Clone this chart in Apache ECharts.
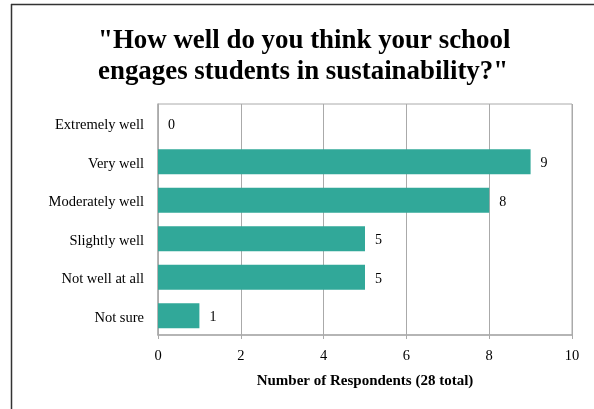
<!DOCTYPE html>
<html>
<head>
<meta charset="utf-8">
<style>html,body{margin:0;padding:0;background:#fff;}#c{width:594px;height:409px;}</style>
<script src="https://cdn.jsdelivr.net/npm/echarts@6/dist/echarts.min.js"></script>
</head>
<body>
<div id="c"></div>
<script>
const categories = ["Extremely well", "Very well", "Moderately well", "Slightly well", "Not well at all", "Not sure"];
const values = [0, 9, 8, 5, 5, 1];
const xTicks = [0, 2, 4, 6, 8, 10];

const serif = '"Liberation Serif", "Times New Roman", serif';
const chart = echarts.init(document.getElementById('c'), null, {renderer: 'canvas'});
chart.setOption({
  animation: false,
  backgroundColor: '#fff',
  title: {
    text: '"How well do you think your school\nengages students in sustainability?"',
    left: 93, top: 21, textAlign: 'left',
    textStyle: {fontFamily: serif, fontWeight: 'bold', fontSize: 26.9, color: '#000', lineHeight: 31}
  },
  graphic: [
    {type: 'line', shape: {x1: 11, y1: 4.5, x2: 594, y2: 4.5}, style: {stroke: '#333', lineWidth: 1.5}},
    {type: 'line', shape: {x1: 11.5, y1: 4, x2: 11.5, y2: 409}, style: {stroke: '#333', lineWidth: 1.5}}
  ],
  grid: {left: 158, right: 22, top: 104, bottom: 74, show: true, borderColor: '#aaa', borderWidth: 1},
  xAxis: {
    type: 'value', min: xTicks[0], max: xTicks[xTicks.length - 1], interval: 2,
    name: 'Number of Respondents (28 total)', nameLocation: 'middle', nameGap: 39,
    nameTextStyle: {fontFamily: serif, fontWeight: 'bold', fontSize: 15, color: '#000'},
    axisLine: {show: true, lineStyle: {color: '#aaa', width: 1.5}},
    axisTick: {show: true, length: 4, lineStyle: {color: '#aaa'}},
    axisLabel: {fontFamily: serif, fontSize: 14.5, color: '#000', margin: 14},
    splitLine: {show: true, lineStyle: {color: '#aaa', width: 1}}
  },
  yAxis: {
    type: 'category', data: categories, inverse: true,
    axisLine: {show: true, lineStyle: {color: '#aaa', width: 1.5}},
    axisTick: {show: false},
    axisLabel: {
      margin: 14,
      formatter: v => '{a|' + v + '}',
      rich: {a: {fontFamily: serif, fontSize: 14.5, color: '#000', padding: [4, 0, 0, 0]}}
    },
    splitLine: {show: false}
  },
  series: [{
    type: 'bar', data: values, barCategoryGap: '35%',
    itemStyle: {color: '#31a899'},
    label: {
      show: true, position: 'right', distance: 10,
      formatter: p => '{a|' + p.value + '}',
      rich: {a: {fontFamily: serif, fontSize: 14, color: '#000', padding: [4, 0, 0, 0]}}
    }
  }]
});
</script>
</body>
</html>
